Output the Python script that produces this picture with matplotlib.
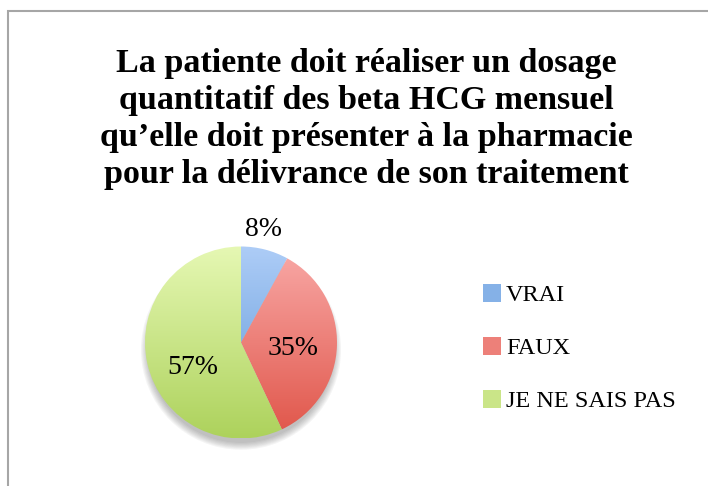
import numpy as np
import matplotlib
matplotlib.use('Agg')
import matplotlib.pyplot as plt
from matplotlib.patches import Patch, Rectangle, Circle
from matplotlib.colors import LinearSegmentedColormap, to_rgb

# DATA
categories = ['VRAI', 'FAUX', 'JE NE SAIS PAS']
values = [8, 35, 57]
title = ("La patiente doit réaliser un dosage\n"
         "quantitatif des beta HCG mensuel\n"
         "qu\u2019elle doit présenter à la pharmacie\n"
         "pour la délivrance de son traitement")

# gradient colours (top, bottom) per slice
grad = [('#aecdf7', '#5b95d6'),
        ('#f9aaa8', '#e05549'),
        ('#e6f8b4', '#add25c')]

plt.rcParams['font.family'] = ['Liberation Serif', 'DejaVu Serif']

fig = plt.figure(figsize=(7.08, 4.86), dpi=100)

# border of the chart area (runs off right and bottom edges)
fig.patches.append(Rectangle((8 / 708, -0.1), 1.2, 1.1 - 11 / 486,
                             transform=fig.transFigure, fill=False,
                             edgecolor='#a6a6a6', linewidth=1.5))

fig.text(366 / 708, 1 - 119 / 486, title, ha='center', va='center',
         fontsize=24.5, fontweight='bold', linespacing=1.24)

# PIE
cx, cy, r = 241, 342.5, 96
lim = 1.25
w = 2 * r * lim
ax = fig.add_axes([(cx - w / 2) / 708, (486 - cy - w / 2) / 486, w / 708, w / 486])

# soft shadow under the pie
for i in range(7):
    ax.add_patch(Circle((0, -0.075), 0.97 + 0.012 * i, color='#505050',
                        alpha=0.06, zorder=0, linewidth=0))

wedges, texts, autotexts = ax.pie(values, startangle=90, counterclock=False,
                                  autopct='%1.0f%%', pctdistance=0.56,
                                  textprops={'fontsize': 20, 'color': 'black'},
                                  wedgeprops={'linewidth': 0})

for wdg, (top, bot) in zip(wedges, grad):
    wdg.set_facecolor('none')
    cmap = LinearSegmentedColormap.from_list('g', [bot, top])
    g = np.linspace(0, 1, 256).reshape(-1, 1)
    im = ax.imshow(g, cmap=cmap, extent=(-1, 1, -1, 1), origin='lower',
                   aspect='auto', zorder=1)
    im.set_clip_path(wdg)

for wdg, t, v in zip(wedges, autotexts, values):
    t.set_zorder(5)
    ang = np.deg2rad((wdg.theta1 + wdg.theta2) / 2)
    if v < 10:
        t.set_position((1.21 * np.cos(ang) - 0.07, 1.21 * np.sin(ang)))
    elif v > 50:
        x, y = t.get_position()
        t.set_position((x + 0.04, y - 0.14))
    else:
        x, y = t.get_position()
        t.set_position((x - 0.02, y - 0.04))

ax.set_xlim(-lim, lim)
ax.set_ylim(-lim, lim)
ax.set_aspect('equal')
ax.axis('off')

# LEGEND
handles = [Patch(facecolor=(np.array(to_rgb(t)) + np.array(to_rgb(b))) / 2,
                 edgecolor='none') for t, b in grad]
fig.legend(handles, categories, loc='upper left',
           bbox_to_anchor=(483 / 708, 1 - 284 / 486), frameon=False,
           fontsize=17.5, handlelength=0.75, handleheight=0.75,
           handletextpad=0.2, labelspacing=1.26, borderpad=0,
           borderaxespad=0)

fig.savefig('out.png', dpi=100)
